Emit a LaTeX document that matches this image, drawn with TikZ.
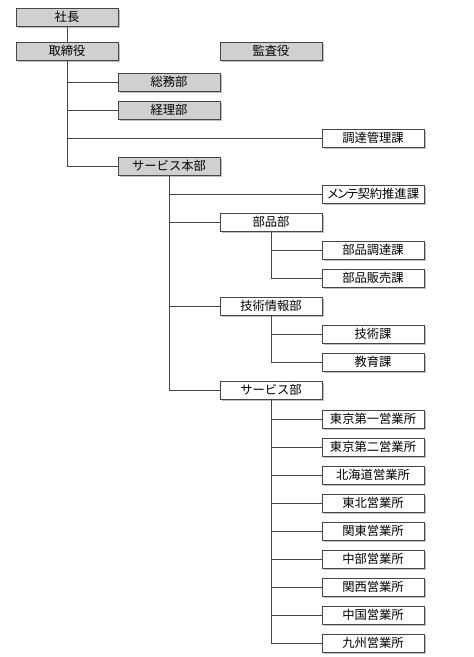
\documentclass[tikz,border=0pt]{standalone}
\usepackage{fontspec}
\usepackage{tikz}
\usetikzlibrary{shadows}
\newfontfamily\jp{Noto Sans CJK JP}
\definecolor{boxgray}{RGB}{208,208,208}
\definecolor{linegray}{RGB}{70,70,70}

\begin{document}
\begin{tikzpicture}[x=0.03cm, y=-0.03cm]
      \useasboundingbox (0,0) rectangle (473,657);
      \tikzstyle {orgbox} = [shape=rectangle, draw=linegray, line width=0.6pt, fill=white, minimum width=3.06cm, minimum height=0.54cm, inner sep=0pt, font=\jp\fontsize{10.5pt}{12pt}\selectfont, drop shadow={shadow xshift=0.06cm, shadow yshift=-0.06cm, fill=black!45, opacity=0.55}];
      \tikzstyle {topbox} = [orgbox, fill=boxgray];
      \tikzstyle {link} = [draw=linegray, line width=0.5pt];
      % top level
      \node (sha) [topbox] at (67,17) {社長};
      \node (tori) [topbox] at (67,51) {取締役};
      \node (kansa) [topbox] at (271,51) {監査役};
      \node (somu) [topbox] at (169,82) {総務部};
      \node (keiri) [topbox] at (169,110) {経理部};
      \node (chotatsu) [orgbox] at (373,138) {調達管理課};
      \node (shq) [topbox] at (169,166) {サービス本部};
      % service headquarters
      \node (mente) [orgbox] at (373,194) {メ\kern-2.2pt ン\kern-2.2pt テ\kern-1pt 契約推進課};
      \node (buhin) [orgbox] at (271,222) {部品部};
      \node (buhin1) [orgbox] at (373,250) {部品調達課};
      \node (buhin2) [orgbox] at (373,278) {部品販売課};
      \node (giho) [orgbox] at (271,306) {技術情報部};
      \node (giho1) [orgbox] at (373,334) {技術課};
      \node (giho2) [orgbox] at (373,362) {教育課};
      \node (sv) [orgbox] at (271,390) {サービス部};
      % sales offices
      \node (sv1) [orgbox] at (373,419) {東京第一営業所};
      \node (sv2) [orgbox] at (373,447) {東京第二営業所};
      \node (sv3) [orgbox] at (373,475) {北海道営業所};
      \node (sv4) [orgbox] at (373,503) {東北営業所};
      \node (sv5) [orgbox] at (373,531) {関東営業所};
      \node (sv6) [orgbox] at (373,559) {中部営業所};
      \node (sv7) [orgbox] at (373,587) {関西営業所};
      \node (sv8) [orgbox] at (373,615) {中国営業所};
      \node (sv9) [orgbox] at (373,643) {九州営業所};
      % connectors
      \draw [link] (sha) -- (tori);
      \foreach \c in {somu, keiri, chotatsu, shq}
        \draw [link] (tori.south) |- (\c.west);
      \foreach \c in {mente, buhin, giho, sv}
        \draw [link] (shq.south) |- (\c.west);
      \foreach \c in {buhin1, buhin2}
        \draw [link] (buhin.south) |- (\c.west);
      \foreach \c in {giho1, giho2}
        \draw [link] (giho.south) |- (\c.west);
      \foreach \c in {sv1, sv2, sv3, sv4, sv5, sv6, sv7, sv8, sv9}
        \draw [link] (sv.south) |- (\c.west);
    \end{tikzpicture}
\end{document}
